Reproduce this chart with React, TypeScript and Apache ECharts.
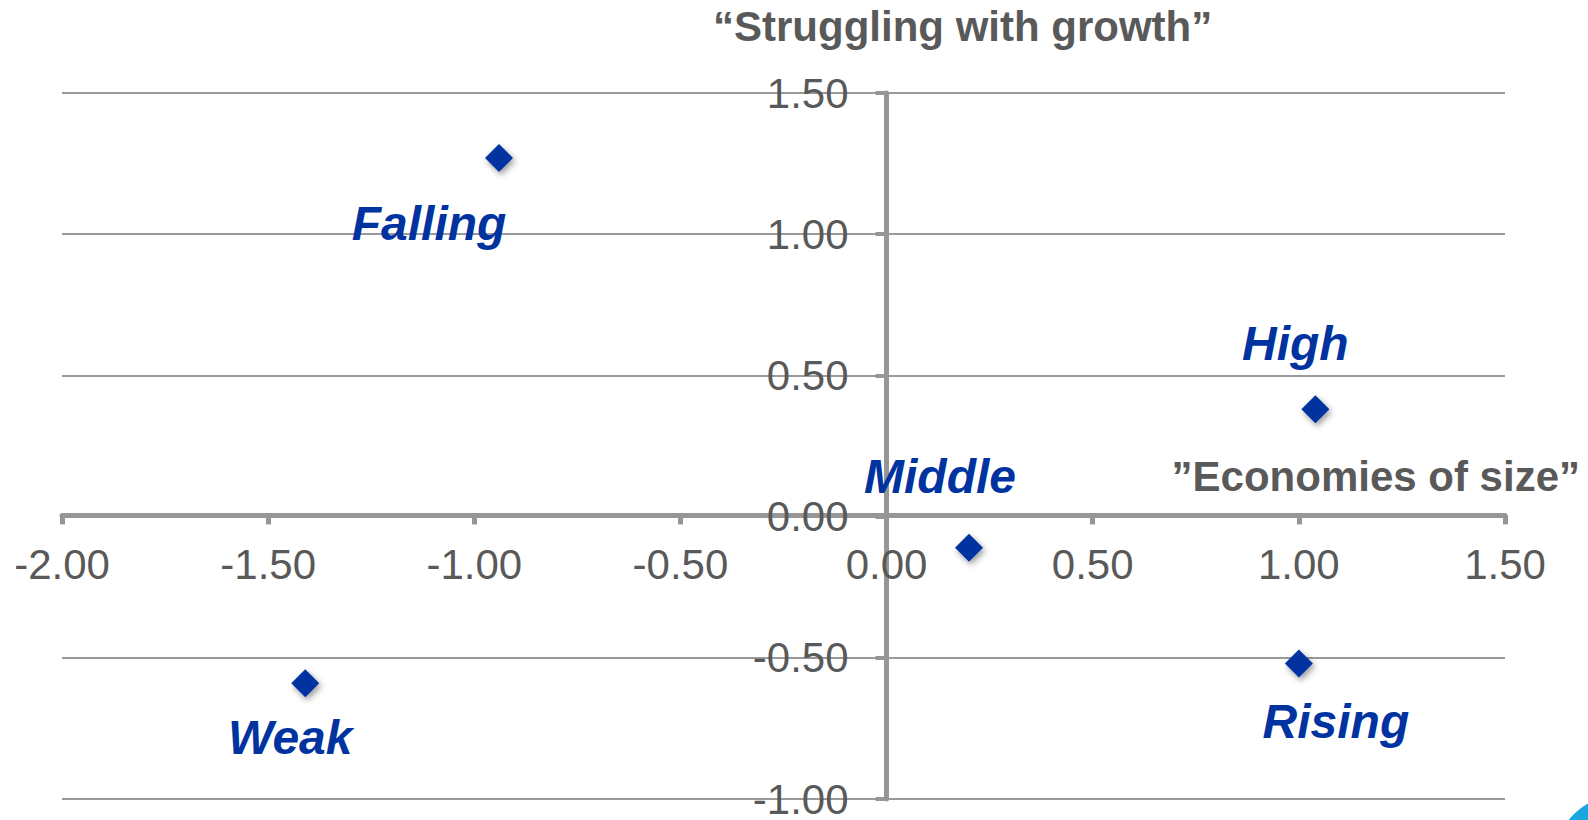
import React, { useEffect, useRef } from "react";
import * as echarts from "echarts";

// Segment positions on the two strategy dimensions
const segmentNames = ["Falling", "High", "Middle", "Rising", "Weak"];
const xValues = [-0.94, 1.04, 0.2, 1.0, -1.41];
const yValues = [1.27, 0.38, -0.11, -0.52, -0.59];

// Axis settings
const xMin = -2.0;
const xMax = 1.5;
const yMin = -1.0;
const yMax = 1.5;
const tickStep = 0.5;

const yAxisTitle = "\u201CStruggling with growth\u201D";
const xAxisTitle = "\u201DEconomies of size\u201D";

// Where each segment's name sits relative to its marker
const labelOffsets: Record<string, [number, number]> = {
  Falling: [-70, 66],
  High: [-20, -66],
  Middle: [-29, -71],
  Rising: [37, 58],
  Weak: [-15, 54],
};

const WIDTH = 1588;
const HEIGHT = 820;
const GRID = { left: 62, right: 83, top: 93, bottom: 18 };

const FONT = "'Liberation Sans', Arial, Helvetica, sans-serif";
const AXIS_GRAY = "#969696";
const TEXT_GRAY = "#595959";
const MARK_BLUE = "#0033A0";

export default function App() {
  const ref = useRef<HTMLDivElement>(null);

  useEffect(() => {
    if (!ref.current) return;
    const chart = echarts.init(ref.current, undefined, { renderer: "svg" });

    // The axes cross at the origin: shift each one from the grid edge to zero
    const plotW = WIDTH - GRID.left - GRID.right;
    const plotH = HEIGHT - GRID.top - GRID.bottom;
    const xAxisShift = -plotH * ((0 - yMin) / (yMax - yMin));
    const yAxisShift = -plotW * ((0 - xMin) / (xMax - xMin));

    const points = segmentNames.map((name, i) => ({
      name,
      value: [xValues[i], yValues[i]],
      label: { offset: labelOffsets[name] },
    }));

    chart.setOption({
      animation: false,
      backgroundColor: "#ffffff",
      grid: { ...GRID, containLabel: false },
      xAxis: {
        type: "value",
        position: "bottom",
        offset: xAxisShift,
        min: xMin,
        max: xMax,
        interval: tickStep,
        splitLine: { show: false },
        axisLine: { onZero: false, lineStyle: { color: AXIS_GRAY, width: 5 } },
        axisTick: { show: true, length: 9, lineStyle: { color: AXIS_GRAY, width: 5 } },
        axisLabel: {
          color: TEXT_GRAY,
          fontFamily: FONT,
          fontSize: 42,
          margin: 28,
          formatter: (v: number) => v.toFixed(2),
        },
        z: 3,
      },
      yAxis: {
        type: "value",
        position: "left",
        offset: yAxisShift,
        min: yMin,
        max: yMax,
        interval: tickStep,
        splitLine: { show: true, lineStyle: { color: "#9a9a9a", width: 2 } },
        axisLine: { onZero: false, lineStyle: { color: AXIS_GRAY, width: 5 } },
        axisTick: { show: true, length: 11, lineStyle: { color: AXIS_GRAY, width: 4 } },
        axisLabel: {
          color: TEXT_GRAY,
          fontFamily: FONT,
          fontSize: 42,
          margin: 38,
          formatter: (v: number) => v.toFixed(2),
        },
        z: 3,
      },
      series: [
        {
          type: "scatter",
          symbol: "diamond",
          symbolSize: 28,
          itemStyle: {
            color: MARK_BLUE,
            opacity: 1,
            shadowColor: "rgba(0,0,0,0.4)",
            shadowBlur: 6,
            shadowOffsetX: 2,
            shadowOffsetY: 3,
          },
          label: {
            show: true,
            position: "inside",
            formatter: "{b}",
            color: MARK_BLUE,
            fontFamily: FONT,
            fontSize: 48,
            fontWeight: "bold",
            fontStyle: "italic",
          },
          data: points,
          z: 5,
        },
      ],
      graphic: [
        {
          type: "text",
          left: 713,
          top: 5,
          style: {
            text: yAxisTitle,
            fill: TEXT_GRAY,
            font: `bold 42px ${FONT}`,
          },
        },
        {
          type: "text",
          right: 8,
          top: 455,
          style: {
            text: xAxisTitle,
            fill: TEXT_GRAY,
            font: `bold 42px ${FONT}`,
          },
        },
        {
          type: "circle",
          shape: { cx: 1620, cy: 860, r: 65 },
          style: { fill: "#1BA6E0" },
          z: 10,
        },
      ],
    });

    return () => chart.dispose();
  }, []);

  return (
    <div
      ref={ref}
      style={{ position: "fixed", left: 0, top: 0, width: WIDTH, height: HEIGHT }}
    />
  );
}
